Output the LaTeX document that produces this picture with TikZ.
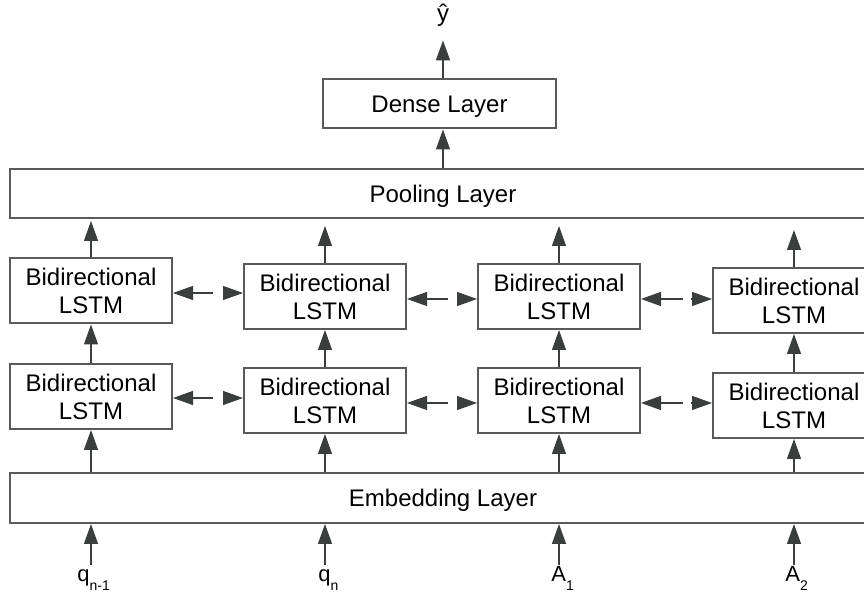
\documentclass[tikz,border=0pt]{standalone}
\usepackage{fontspec}
\setmainfont{Liberation Sans}
\usetikzlibrary{arrows.meta,positioning}
\definecolor{boxline}{RGB}{90,90,90}
\definecolor{arrowcol}{RGB}{58,62,61}

\newcommand{\lowsub}[1]{\raisebox{-0.7ex}{\scriptsize #1}}

\begin{document}
\begin{tikzpicture}[x=0.5pt,y=-0.5pt]
        \tikzstyle{every node}+=[inner sep=0pt, font=\fontsize{12}{14}\selectfont]
        \tikzstyle{layer}=[draw=boxline, line width=1pt, minimum height=24.5pt, text depth=0pt]
        \tikzstyle{lstm}=[draw=boxline, line width=1pt, minimum width=81pt, minimum height=32.5pt, align=center]
        \tikzstyle{inlabel}=[anchor=base west, text height=8.5pt, font=\fontsize{11}{13}\selectfont]
        \tikzstyle{arr}=[draw=arrowcol, line width=0.7pt, -{Triangle[length=10pt,width=7pt]}]
        \useasboundingbox (0,0) rectangle (864,593);
        % output side
        \node[anchor=base, text depth=9pt] (yhat) at (443,22) {ŷ};
        \node[layer, minimum width=116.5pt] (dense) at (439.5,104) {Dense Layer};
        \node[layer, minimum width=433pt] (pool) at (443,193.5) {Pooling Layer};
        \node[layer, minimum width=433pt, minimum height=25pt] (emb) at (443,498) {Embedding Layer};
        \draw[arr] (dense.north -| yhat) -- (yhat.south);
        \draw[arr] (pool.north -| yhat) -- (dense.south -| yhat);
        % two stacked Bi-LSTM layers per input
        \foreach \i/\x/\yu/\yd in {1/91/291/396.5, 2/325/296.5/400.5, 3/559/296.5/400.5, 4/794/300.5/405.5} {
          \node[lstm] (up\i) at (\x,\yu) {Bidirectional\\LSTM};
          \node[lstm] (dn\i) at (\x,\yd) {Bidirectional\\LSTM};
          \draw[arr] (dn\i.north) -- (up\i.south);
          \draw[arr] (emb.north -| dn\i) -- (dn\i.south);
        }
        \foreach \i/\s in {1/1pt, 2/3.5pt, 3/3.5pt, 4/5.5pt}
          \draw[arr, shorten >=\s] (up\i.north) -- (pool.south -| up\i);
        % links between neighbours
        \foreach \a/\b/\xl/\xr/\yu/\yd in {1/2/213/223/293/398, 2/3/448/458/299/403, 3/4/683/691/299/403} {
          \coordinate (gul\a) at (\xl,\yu);
          \coordinate (gur\a) at (\xr,\yu);
          \coordinate (gdl\a) at (\xl,\yd);
          \coordinate (gdr\a) at (\xr,\yd);
          \draw[arr] (gul\a) -- (up\a.east |- gul\a);
          \draw[arr] (gur\a) -- (up\b.west |- gur\a);
          \draw[arr] (gdl\a) -- (dn\a.east |- gdl\a);
          \draw[arr] (gdr\a) -- (dn\b.west |- gdr\a);
        }
        % inputs
        \node[inlabel] (in1) at (77,582) {q\lowsub{n-1}};
        \node[inlabel] (in2) at (318,582) {q\lowsub{n}};
        \node[inlabel] (in3) at (551,582) {A\lowsub{1}};
        \node[inlabel] (in4) at (785,582) {A\lowsub{2}};
        \foreach \i in {1,...,4}
          \draw[arr] (in\i.north -| dn\i) -- (emb.south -| dn\i);
\end{tikzpicture}
\end{document}
